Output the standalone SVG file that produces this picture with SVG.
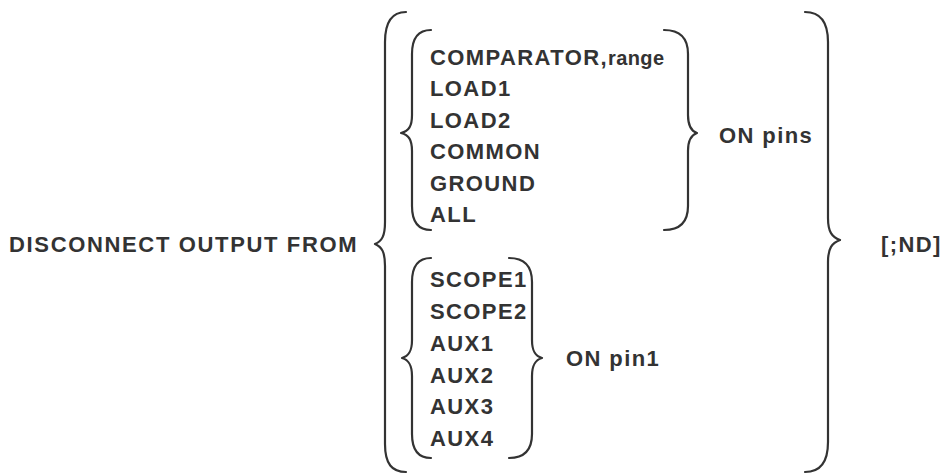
<svg xmlns="http://www.w3.org/2000/svg" width="947" height="475" viewBox="0 0 947 475">
<style>
  .t { font-family: "Liberation Sans", Arial, Helvetica, sans-serif; font-weight: bold; font-size: 22px; fill: #333333; letter-spacing: 1.4px; }
  .sm { font-size: 20px; letter-spacing: 0.4px; }
  .br { fill: none; stroke: #333333; stroke-width: 2.2; stroke-linecap: round; stroke-linejoin: round; }
</style>
<rect width="947" height="475" fill="#ffffff"/>

<g id="command">
  <text class="t" x="9" y="252" textLength="349" lengthAdjust="spacing">DISCONNECT OUTPUT FROM</text>
</g>

<g id="pins-group">
  <text class="t" x="430" y="64.5">COMPARATOR,<tspan class="sm">range</tspan></text>
  <text class="t" x="430" y="96">LOAD1</text>
  <text class="t" x="430" y="127.5">LOAD2</text>
  <text class="t" x="430" y="159">COMMON</text>
  <text class="t" x="430" y="190.5">GROUND</text>
  <text class="t" x="430" y="222">ALL</text>
</g>

<g id="on-pins">
  <text class="t" x="719" y="143">ON pins</text>
</g>

<g id="pin1-group">
  <text class="t" x="430" y="286.5">SCOPE1</text>
  <text class="t" x="430" y="318.5">SCOPE2</text>
  <text class="t" x="430" y="350.5">AUX1</text>
  <text class="t" x="430" y="382.5">AUX2</text>
  <text class="t" x="430" y="414">AUX3</text>
  <text class="t" x="430" y="445.5">AUX4</text>
</g>

<g id="on-pin1">
  <text class="t" x="566" y="366">ON pin1</text>
</g>

<g id="nd">
  <text class="t" x="881" y="252">[;ND]</text>
</g>

<g id="connectors">
  <!-- big left brace -->
  <path class="br" d="M406,12 C392,12 385,22 385,42 L385,222 C385,236 382,241 375,244 C382,247 385,252 385,266 L385,444 C385,464 392,472 406,472"/>
  <!-- big right brace -->
  <path class="br" d="M805,12 C820,12 828,22 828,42 L828,218 C828,232 832,237 840,240 C832,243 828,248 828,262 L828,442 C828,462 820,472 805,472"/>
  <!-- inner top left brace -->
  <path class="br" d="M431,30 C418,30 412,38 412,54 L412,115 C412,126 409,131 401,133 C409,135 412,140 412,151 L412,206 C412,222 418,230 431,230"/>
  <!-- inner top right brace -->
  <path class="br" d="M664,30 C680,30 688,38 688,54 L688,115 C688,126 691,131 697,133 C691,135 688,140 688,151 L688,206 C688,222 680,230 664,230"/>
  <!-- inner bottom left brace -->
  <path class="br" d="M431,258 C418,258 412,266 412,282 L412,340 C412,351 409,356 402,358 C409,360 412,365 412,376 L412,434 C412,450 418,458 431,458"/>
  <!-- inner bottom right brace -->
  <path class="br" d="M509,258 C525,258 532,266 532,282 L532,340 C532,351 535,356 542,358 C535,360 532,365 532,376 L532,434 C532,450 525,458 509,458"/>
</g>
</svg>
